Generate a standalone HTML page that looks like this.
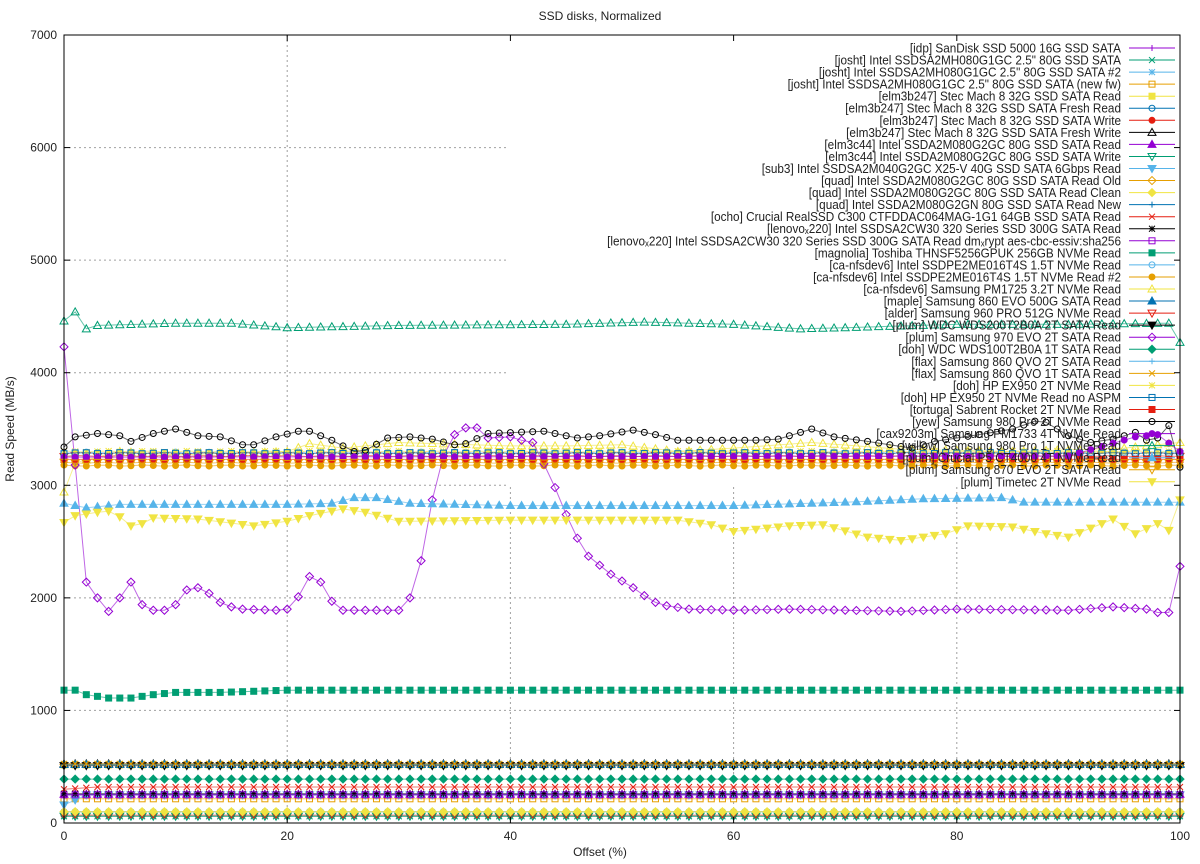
<!DOCTYPE html>
<html><head><meta charset="utf-8"><style>
html,body{margin:0;padding:0;background:#fff}
svg{display:block;font-family:"Liberation Sans",sans-serif}
</style></head><body>
<svg id="s" width="1200" height="864" xmlns="http://www.w3.org/2000/svg">
<rect width="1200" height="864" fill="#fff"/>
<g id="grid" stroke="#a0a0a0" stroke-dasharray="2,3" stroke-width="1"></g>
<rect x="507" y="36" width="672" height="451" fill="#fff"/>
<g id="data"></g>
<g id="leg" font-size="12.5" fill="#222" text-anchor="end"></g>
<rect x="64" y="35" width="1116" height="788" fill="none" stroke="#000"/>
<g id="ticks" stroke="#000"></g>
<g id="lbl" font-size="12" fill="#222"></g>
<text x="600" y="20" font-size="12" text-anchor="middle" fill="#222">SSD disks, Normalized</text>
<text x="600" y="856" font-size="12" text-anchor="middle" fill="#222">Offset (%)</text>
<text transform="translate(14,429) rotate(-90)" font-size="12" text-anchor="middle" fill="#222">Read Speed (MB/s)</text>
</svg>
<script>
var NS="http://www.w3.org/2000/svg";
function X(v){return 64+v*11.16}
function Y(v){return 823-v*0.11257}
function el(t,a,p){var e=document.createElementNS(NS,t);for(var k in a)e.setAttribute(k,a[k]);p.appendChild(e);return e}
var g=document.getElementById('grid'),tk=document.getElementById('ticks'),lb=document.getElementById('lbl');
for(var i=1;i<=6;i++){var y=Y(i*1000);el('line',{x1:64,x2:i>=3?507:1180,y1:y,y2:y},g);}
[20,40,60,80].forEach(function(v){var x=X(v);el('line',{x1:x,x2:x,y1:(v==20?35:487),y2:823},g);});
for(var i=0;i<=7;i++){var y=Y(i*1000);el('line',{x1:64,x2:70,y1:y,y2:y},tk);el('line',{x1:1174,x2:1180,y1:y,y2:y},tk);
 var t=el('text',{x:57,y:y+4,'text-anchor':'end'},lb);t.textContent=i*1000;}
for(var v=0;v<=100;v+=20){var x=X(v);el('line',{x1:x,x2:x,y1:823,y2:817},tk);el('line',{x1:x,x2:x,y1:35,y2:41},tk);
 var t=el('text',{x:x,y:840,'text-anchor':'middle'},lb);t.textContent=v;}
var C=["#9400d3","#009e73","#56b4e9","#e69f00","#f0e442","#0072b2","#e51e10","#000000"];
var M=["+","x","*","sq","fsq","o","fo","tri","ftri","dtri","fdtri","dia","fdia"];
function interp(k){var a=[];for(var v=0;v<=100;v++){var j=0;while(j<k.length-2&&k[j+1][0]<=v)j++;var p=k[j],q=k[j+1];var f=(v-p[0])/(q[0]-p[0]);if(f>1)f=1;a.push(p[1]+(q[1]-p[1])*f);}return a}
function flat(l,w){var a=[];for(var v=0;v<=100;v++)a.push(l+(w||0)*Math.sin(v*1.7+l));return a}
var names=["[idp] SanDisk SSD 5000 16G SSD SATA","[josht] Intel SSDSA2MH080G1GC 2.5\" 80G SSD SATA","[josht] Intel SSDSA2MH080G1GC 2.5\" 80G SSD SATA #2","[josht] Intel SSDSA2MH080G1GC 2.5\" 80G SSD SATA (new fw)","[elm3b247] Stec Mach 8 32G SSD SATA Read","[elm3b247] Stec Mach 8 32G SSD SATA Fresh Read","[elm3b247] Stec Mach 8 32G SSD SATA Write","[elm3b247] Stec Mach 8 32G SSD SATA Fresh Write","[elm3c44] Intel SSDA2M080G2GC 80G SSD SATA Read","[elm3c44] Intel SSDA2M080G2GC 80G SSD SATA Write","[sub3] Intel SSDSA2M040G2GC X25-V 40G SSD SATA 6Gbps Read","[quad] Intel SSDA2M080G2GC 80G SSD SATA Read Old","[quad] Intel SSDA2M080G2GC 80G SSD SATA Read Clean","[quad] Intel SSDA2M080G2GN 80G SSD SATA Read New","[ocho] Crucial RealSSD C300 CTFDDAC064MAG-1G1 64GB SSD SATA Read","[lenovo\u2093220] Intel SSDSA2CW30 320 Series SSD 300G SATA Read","[lenovo\u2093220] Intel SSDSA2CW30 320 Series SSD 300G SATA Read dm\u2093rypt aes-cbc-essiv:sha256","[magnolia] Toshiba THNSF5256GPUK 256GB NVMe Read","[ca-nfsdev6] Intel SSDPE2ME016T4S 1.5T NVMe Read","[ca-nfsdev6] Intel SSDPE2ME016T4S 1.5T NVMe Read #2","[ca-nfsdev6] Samsung PM1725 3.2T NVMe Read","[maple] Samsung 860 EVO 500G SATA Read","[alder] Samsung 960 PRO 512G NVMe Read","[plum] WDC WDS200T2B0A 2T SATA Read","[plum] Samsung 970 EVO 2T SATA Read","[doh] WDC WDS100T2B0A 1T SATA Read","[flax] Samsung 860 QVO 2T SATA Read","[flax] Samsung 860 QVO 1T SATA Read","[doh] HP EX950 2T NVMe Read","[doh] HP EX950 2T NVMe Read no ASPM","[tortuga] Sabrent Rocket 2T NVMe Read","[yew] Samsung 980 Pro 2T NVMe Read","[cax9203m] Samsung PM1733 4T NVMe Read","[willow] Samsung 980 Pro 1T NVMe Read","[plum] Crucial P5 CT4000 4T NVMe Read","[plum] Samsung 870 EVO 2T SATA Read","[plum] Timetec 2T NVMe Read"];
var D=[];
D[0]=flat(250);D[1]=flat(60);D[2]=flat(520);D[3]=flat(215);D[4]=flat(515);D[5]=flat(100);D[6]=flat(70);D[7]=flat(525);
D[8]=flat(255);D[9]=flat(60);D[10]=interp([[0,160],[2,250],[100,250]]);D[11]=flat(520);D[12]=flat(100);D[13]=flat(250);
D[14]=interp([[0,300],[3,320],[100,320]]);D[15]=flat(260);D[16]=flat(250);
D[17]=interp([[0,1180],[1,1180],[2,1140],[4,1110],[6,1110],[8,1140],[10,1160],[14,1160],[20,1180],[100,1180]]);
D[18]=flat(3290,5);D[19]=flat(3175,5);D[20]=interp([[0,2940],[1,3200],[5,3300],[10,3270],[20,3300],[22,3370],[25,3330],[30,3380],[40,3350],[45,3350],[50,3360],[55,3300],[60,3330],[67,3380],[75,3320],[85,3300],[95,3330],[100,3380]]);
D[21]=flat(520);D[22]=flat(3260,5);D[23]=flat(510);
D[24]=interp([[0,4230],[1,3180],[2,2140],[3,2000],[4,1880],[5,2000],[6,2140],[7,1940],[8,1890],[9,1890],[10,1940],[11,2070],[12,2090],[13,2040],[14,1960],[15,1920],[16,1900],[19,1890],[20,1900],[21,2010],[22,2190],[23,2140],[24,1970],[25,1890],[30,1890],[31,2000],[32,2330],[33,2870],[34,3260],[35,3450],[36,3510],[37,3510],[38,3420],[40,3430],[41,3400],[42,3380],[43,3190],[44,2980],[45,2740],[46,2530],[47,2370],[48,2290],[49,2210],[50,2150],[51,2090],[52,2020],[53,1960],[54,1930],[56,1900],[60,1890],[65,1900],[75,1880],[80,1900],[90,1890],[94,1920],[97,1900],[98,1870],[99,1870],[100,2280]]);
D[25]=flat(390);D[26]=flat(515);D[27]=flat(525);D[28]=flat(3300,5);D[29]=flat(3285,5);D[30]=flat(3230);
D[31]=interp([[0,3340],[1,3430],[3,3460],[5,3440],[6,3390],[8,3460],[10,3500],[12,3440],[14,3430],[16,3360],[17,3360],[19,3430],[21,3480],[22,3480],[24,3400],[26,3300],[27,3310],[29,3420],[31,3430],[33,3410],[35,3360],[36,3370],[38,3460],[43,3480],[46,3420],[48,3440],[51,3490],[53,3450],[55,3400],[62,3400],[64,3410],[67,3500],[69,3430],[72,3390],[76,3330],[78,3390],[82,3450],[85,3500],[87,3570],[88,3560],[90,3440],[92,3380],[94,3410],[96,3470],[97,3400],[98,3420],[99,3530],[100,3160]]);
D[32]=interp([[0,3250],[90,3260],[96,3430],[98,3450],[100,3300]]);
D[33]=interp([[0,4460],[1,4540],[2,4390],[3,4420],[10,4440],[15,4440],[20,4400],[30,4420],[45,4430],[52,4450],[60,4430],[66,4390],[70,4400],[80,4430],[90,4430],[99,4440],[100,4270]]);
D[34]=interp([[0,2840],[2,2800],[5,2830],[20,2830],[24,2840],[26,2890],[28,2890],[31,2840],[40,2820],[60,2820],[70,2850],[77,2880],[84,2890],[86,2850],[100,2850]]);
D[35]=flat(3200,5);
D[36]=interp([[0,2670],[1,2730],[3,2760],[4,2770],[5,2720],[6,2640],[7,2660],[8,2710],[12,2700],[17,2640],[20,2680],[22,2730],[25,2790],[27,2760],[30,2680],[40,2690],[50,2690],[55,2690],[58,2650],[60,2590],[65,2640],[68,2650],[72,2540],[75,2510],[79,2570],[81,2640],[85,2630],[88,2570],[90,2540],[94,2700],[96,2570],[98,2660],[99,2600],[100,2870]]);
function marker(p,t,x,y,c){var s=3,a;
 switch(t){
 case "+":el('path',{d:"M"+(x-s)+" "+y+"h"+2*s+"M"+x+" "+(y-s)+"v"+2*s,stroke:c,fill:"none"},p);break;
 case "x":el('path',{d:"M"+(x-s)+" "+(y-s)+"l"+2*s+" "+2*s+"M"+(x-s)+" "+(y+s)+"l"+2*s+" "+(-2*s),stroke:c,fill:"none"},p);break;
 case "*":el('path',{d:"M"+(x-s)+" "+y+"h"+2*s+"M"+x+" "+(y-s)+"v"+2*s+"M"+(x-s)+" "+(y-s)+"l"+2*s+" "+2*s+"M"+(x-s)+" "+(y+s)+"l"+2*s+" "+(-2*s),stroke:c,fill:"none"},p);break;
 case "sq":case "fsq":el('rect',{x:x-s,y:y-s,width:2*s,height:2*s,stroke:c,fill:t=="fsq"?c:"none"},p);break;
 case "o":case "fo":el('circle',{cx:x,cy:y,r:s,stroke:c,fill:t=="fo"?c:"none"},p);break;
 case "tri":case "ftri":el('path',{d:"M"+x+" "+(y-s-1)+"L"+(x+s+1)+" "+(y+s)+"L"+(x-s-1)+" "+(y+s)+"Z",stroke:c,fill:t=="ftri"?c:"none"},p);break;
 case "dtri":case "fdtri":el('path',{d:"M"+x+" "+(y+s+1)+"L"+(x+s+1)+" "+(y-s)+"L"+(x-s-1)+" "+(y-s)+"Z",stroke:c,fill:t=="fdtri"?c:"none"},p);break;
 default:el('path',{d:"M"+x+" "+(y-s-1)+"L"+(x+s+1)+" "+y+"L"+x+" "+(y+s+1)+"L"+(x-s-1)+" "+y+"Z",stroke:c,fill:t=="fdia"?c:"none"},p);
 }}
var dg=document.getElementById('data'),lg=document.getElementById('leg');
for(var i=0;i<37;i++){var c=C[i%8],m=M[i%13],d=D[i];var pts=[];
 for(var v=0;v<=100;v++)pts.push(X(v).toFixed(1)+","+Y(d[v]).toFixed(1));
 var gg=el('g',{'stroke-width':1},dg);
 el('polyline',{points:pts.join(" "),fill:"none",stroke:c,'stroke-opacity':0.6},gg);
 for(var v=0;v<=100;v++)marker(gg,m,X(v),Y(d[v]),c);
 var ly=48+i*12.05;
 var t=el('text',{x:1121,y:ly+4.5,transform:"translate(1121,0) scale(0.94,1) translate(-1121,0)"},lg);t.textContent=names[i];
 el('line',{x1:1129,x2:1175,y1:ly,y2:ly,stroke:c},lg);marker(lg,m,1152,ly,c);
}
</script>
</body></html>
